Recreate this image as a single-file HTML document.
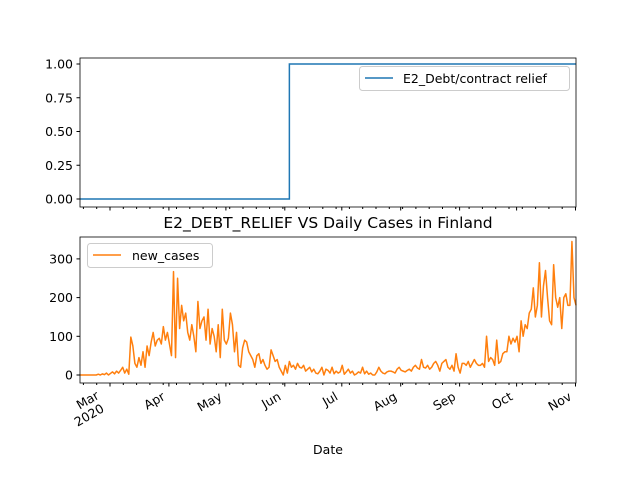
<!DOCTYPE html>
<html><head><meta charset="utf-8"><style>
body{margin:0;background:#fff}
svg text{font-family:"DejaVu Sans","Liberation Sans",sans-serif;fill:#000}
</style></head><body>
<svg id="c" width="640" height="480" xmlns="http://www.w3.org/2000/svg"></svg>
<script>
const monthLabels=["Mar","Apr","May","Jun","Jul","Aug","Sep","Oct","Nov"];
const monthDays=[0,31,61,92,122,153,184,214,245];
const topTicks=[0,0.25,0.5,0.75,1.0];
const topTickLabels=["0.00","0.25","0.50","0.75","1.00"];
const botTicks=[0,100,200,300];
const policyIdx=[0,103,103,244];
const policyVals=[0,0,1,1];
const newCases=[0,0,0,0,0,0,0,0,0,2,0,3,1,5,0,4,8,3,10,5,12,20,5,15,2,98,75,30,20,45,25,
60,20,75,50,85,110,75,90,95,80,125,90,110,80,50,267,45,250,120,180,140,160,110,90,130,100,60,190,120,140,
150,90,170,80,120,100,60,130,45,170,90,80,95,160,130,60,110,25,20,70,90,85,60,50,40,20,50,55,30,40,25,
15,20,65,50,35,40,20,10,0,25,5,35,20,25,15,30,20,18,25,10,15,20,8,15,5,3,10,20,0,15,
12,5,20,3,10,5,8,25,2,8,15,5,10,0,3,8,5,20,3,10,2,5,0,0,8,20,10,5,3,8,10,
10,8,5,15,20,12,10,8,12,15,10,20,25,18,15,40,20,18,25,15,20,30,35,25,10,30,35,40,20,15,25,
10,55,20,5,30,30,25,35,20,30,40,30,25,25,30,20,100,35,45,40,25,90,30,35,55,60,60,100,80,95,
85,100,60,140,100,130,120,160,170,225,150,180,290,150,230,270,200,140,130,285,200,175,200,120,200,210,180,180,345,200,180];

const svg=document.getElementById('c');
const NS="http://www.w3.org/2000/svg";
function el(t,a,p){const e=document.createElementNS(NS,t);for(const k in a)e.setAttribute(k,a[k]);(p||svg).appendChild(e);return e;}
const L=80,R=576;
const xIdx=i=>L+i*(R-L)/(newCases.length-1);
const xDay=d=>110+d*1.9;
const yTop=v=>199-v*135;
const yBot=v=>375-v*0.387;

// top axes
let g=el('g',{});


let p=el('polyline',{points:policyIdx.map((d,k)=>xIdx(d)+','+yTop(policyVals[k])).join(' '),fill:'none',stroke:'#1f77b4','stroke-width':1.5},g);


topTicks.forEach((v,k)=>{el('line',{x1:L-3.5,x2:L,y1:yTop(v),y2:yTop(v),stroke:'#000'},g);
 const t=el('text',{x:L-7,y:yTop(v)+4.5,'text-anchor':'end','font-size':12.5},g);t.textContent=topTickLabels[k];
 
 });
for(let d=-14;d<=245;d+=7){el('line',{x1:xDay(d),x2:xDay(d),y1:207,y2:209,stroke:'#000'},g);}
monthDays.forEach(d=>el('line',{x1:xDay(d),x2:xDay(d),y1:207,y2:210.5,stroke:'#000'},g));
el('rect',{x:L,y:58,width:R-L,height:149,fill:'none',stroke:'#000','stroke-width':0.8},g);
let lg=el('g',{},g);


el('rect',{x:359.5,y:66.5,width:210,height:24,rx:3,fill:'#fff',stroke:'#ccc'},lg);
el('line',{x1:365,x2:393,y1:78,y2:78,stroke:'#1f77b4','stroke-width':1.5},lg);
let lt=el('text',{x:403,y:83,'font-size':12.5},lg);lt.textContent='E2_Debt/contract relief';

// title
let ti=el('text',{x:328,y:228,'text-anchor':'middle','font-size':15.5});ti.textContent='E2_DEBT_RELIEF VS Daily Cases in Finland';



// bottom axes
let b=el('g',{});


let cl=el('polyline',{points:newCases.map((v,i)=>xIdx(i)+','+yBot(v)).join(' '),fill:'none',stroke:'#ff7f0e','stroke-width':1.5,'stroke-linejoin':'round'},b);


botTicks.forEach(v=>{el('line',{x1:L-3.5,x2:L,y1:yBot(v),y2:yBot(v),stroke:'#000'},b);
 const t=el('text',{x:L-7,y:yBot(v)+4.5,'text-anchor':'end','font-size':12.5},b);t.textContent=String(v);
 
 });
for(let d=-14;d<=245;d+=7){el('line',{x1:xDay(d),x2:xDay(d),y1:383,y2:385,stroke:'#000'},b);}
monthDays.forEach((d,k)=>{const x=xDay(d);el('line',{x1:x,x2:x,y1:383,y2:386.5,stroke:'#000'},b);
 const dx=k===0?-10:-3;
 const t=el('text',{transform:`translate(${x+dx},${k===0?398:399}) rotate(-30)`,'text-anchor':'end','font-size':12.5},b);t.textContent=monthLabels[k];
 
 });
let yr=el('text',{transform:`translate(${xDay(0)-5},${411}) rotate(-30)`,'text-anchor':'end','font-size':12.5},b);yr.textContent='2020';
el('rect',{x:L,y:237,width:R-L,height:146,fill:'none',stroke:'#000','stroke-width':0.8},b);
let lg2=el('g',{},b);


el('rect',{x:87.5,y:243.5,width:125,height:24,rx:3,fill:'#fff',stroke:'#ccc'},lg2);
el('line',{x1:93,x2:121,y1:255,y2:255,stroke:'#ff7f0e','stroke-width':1.5},lg2);
let lt2=el('text',{x:132,y:260,'font-size':12.5},lg2);lt2.textContent='new_cases';
let xl=el('text',{x:328,y:454,'text-anchor':'middle','font-size':12.5});xl.textContent='Date';


</script>
</body></html>
